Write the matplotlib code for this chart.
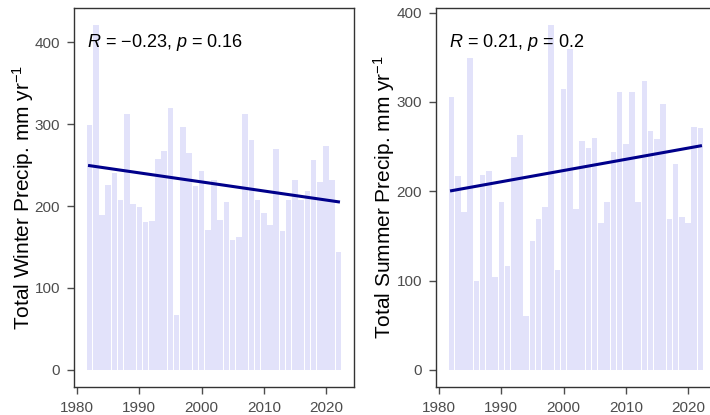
import matplotlib
matplotlib.use("Agg")
import matplotlib.pyplot as plt
import numpy as np

plt.rcParams['font.family'] = ['Liberation Sans', 'DejaVu Sans']
plt.rcParams['mathtext.fontset'] = 'custom'
plt.rcParams['mathtext.rm'] = 'Liberation Sans'
plt.rcParams['mathtext.it'] = 'Liberation Sans:italic'

years = list(range(1982, 2023))
winter = [299, 421, 189, 226, 240, 207, 312, 203, 199, 180, 182, 258, 267, 320, 67,
          297, 265, 225, 243, 171, 232, 183, 205, 159, 162, 312, 281, 207, 192, 177,
          270, 169, 207, 232, 207, 219, 256, 229, 274, 232, 144]
summer = [306, 217, 177, 349, 99, 218, 223, 104, 188, 116, 238, 263, 60, 144, 169,
          182, 386, 112, 315, 359, 180, 256, 249, 260, 164, 188, 244, 311, 253, 311,
          188, 324, 267, 259, 298, 169, 231, 171, 164, 272, 271]

xticks = [1980, 1990, 2000, 2010, 2020]
yticks = [0, 100, 200, 300, 400]

panels = [
    (winter, 'Total Winter Precip. mm yr$^{-1}$', '\u22120.23', '0.16', -0.135),
    (summer, 'Total Summer Precip. mm yr$^{-1}$', '0.21', '0.2', -0.14),
]

fig = plt.figure(figsize=(7.1, 4.15), dpi=100)
ax1 = fig.add_axes([74 / 710, 28 / 415, 280 / 710, 379 / 415])
ax2 = fig.add_axes([436 / 710, 28 / 415, 280 / 710, 379 / 415])

x = np.array(years)
for ax, (vals, ylab, r, p, lx) in zip([ax1, ax2], panels):
    v = np.array(vals)
    ax.bar(x, v, width=0.9, color='#E2E2FA', zorder=1)
    k, b = np.polyfit(x, v, 1)
    ax.plot(x, k * x + b, color='#00008B', lw=2.2, zorder=2)
    top = v.max()
    ax.set_ylim(-0.05 * top, top * 1.05)
    ax.set_xlim(1979.5, 2024.5)
    ax.set_xticks(xticks)
    ax.set_yticks(yticks)
    ax.tick_params(colors='#4D4D4D', labelsize=11, length=5, width=1, pad=5)
    for s in ax.spines.values():
        s.set_color('#333333')
        s.set_linewidth(1)
    ax.set_ylabel(ylab, fontsize=15, color='black')
    ax.yaxis.set_label_coords(lx, 0.5)
    ax.text(1981.6, top * 0.95, '$R$ = ' + r + ', $p$ = ' + p, fontsize=13,
            color='black', va='center', ha='left')

fig.savefig('out.png', dpi=100)
